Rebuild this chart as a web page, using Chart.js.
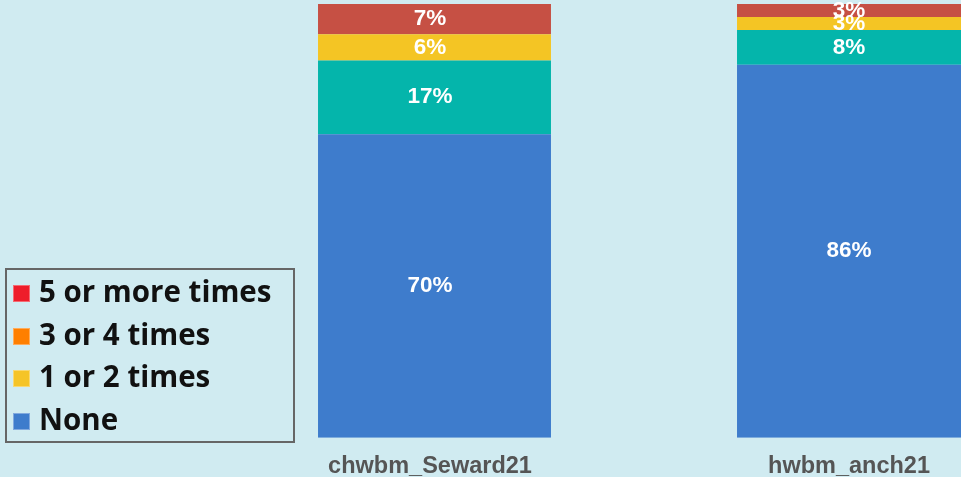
<!DOCTYPE html>
<html>
<head>
<meta charset="utf-8">
<script src="https://cdn.jsdelivr.net/npm/chart.js@4/dist/chart.umd.min.js"></script>
<style>
  html, body { margin: 0; padding: 0; width: 961px; height: 477px; overflow: hidden; background: #d0ebf1; }
  #wrap { position: absolute; left: 0; top: 0; width: 1063px; height: 477px; }
  #legend { position: absolute; left: 5px; top: 268px; width: 286px; height: 171px; border: 2px solid #666; box-sizing: content-box; font-family: "Open Sans", "Noto Sans", sans-serif; font-weight: 700; font-size: 29.5px; color: #111; }
  .item { position: absolute; left: 6px; height: 36px; line-height: 36px; white-space: nowrap; }
  .sw { display: inline-block; width: 17px; height: 17px; margin-right: 9px; vertical-align: 0px; box-sizing: border-box; border: 1px solid rgba(255,255,255,0.35); }
</style>
</head>
<body>
<div id="wrap"><canvas id="c" width="1063" height="477"></canvas></div>
<div id="legend"></div>
<script>
const categories = ["chwbm_Seward21", "hwbm_anch21"];
const seriesNames = ["None", "1 or 2 times", "3 or 4 times", "5 or more times"];
const noneValues = [70, 86];
const oneTwoValues = [17, 8];
const threeFourValues = [6, 3];
const fivePlusValues = [7, 3];
const barColors = ["#3e7ccc", "#04b5ab", "#f4c524", "#c65044"];
const legendLabels = ["5 or more times", "3 or 4 times", "1 or 2 times", "None"];
const legendColors = ["#ee1d2a", "#ff7f00", "#f5c427", "#3e7ccc"];

// HTML legend
const lg = document.getElementById('legend');
legendLabels.forEach((t, i) => {
  const d = document.createElement('div');
  d.className = 'item';
  d.style.top = (3 + i * 42.5) + 'px';
  d.innerHTML = '<span class="sw" style="background:' + legendColors[i] + '"></span>' + t;
  lg.appendChild(d);
});

const valueLabels = {
  id: 'valueLabels',
  afterDatasetsDraw(chart) {
    const ctx = chart.ctx;
    ctx.save();
    ctx.fillStyle = '#ffffff';
    ctx.font = 'bold 22.5px "Liberation Sans", Arial, sans-serif';
    ctx.textAlign = 'center';
    ctx.textBaseline = 'middle';
    chart.data.datasets.forEach((ds, di) => {
      const meta = chart.getDatasetMeta(di);
      meta.data.forEach((el, i) => {
        const v = ds.data[i];
        const y = (el.y + el.base) / 2;
        ctx.fillText(v + '%', el.x - 4.5, y);
      });
    });
    ctx.restore();
  }
};

const seriesValues = [noneValues, oneTwoValues, threeFourValues, fivePlusValues];
new Chart(document.getElementById('c'), {
  type: 'bar',
  data: {
    labels: categories,
    datasets: seriesNames.map((n, i) => ({
      label: n,
      data: seriesValues[i],
      backgroundColor: barColors[i],
      borderWidth: 0,
      categoryPercentage: 1,
      barPercentage: 0.556
    }))
  },
  options: {
    responsive: false,
    devicePixelRatio: 1,
    animation: false,
    layout: { padding: { left: 225, right: 0, top: 4, bottom: -19 } },
    plugins: { legend: { display: false }, tooltip: { enabled: false } },
    scales: {
      x: {
        stacked: true,
        grid: { display: false, drawTicks: false },
        border: { display: false },
        ticks: {
          color: '#555555',
          font: { family: '"Liberation Sans", Arial, sans-serif', weight: 'bold', size: 23.5 },
          padding: 15,
          labelOffset: -4.5,
          maxRotation: 0
        }
      },
      y: {
        stacked: true,
        display: false,
        min: 0,
        max: 100
      }
    }
  },
  plugins: [valueLabels]
});
</script>
</body>
</html>
